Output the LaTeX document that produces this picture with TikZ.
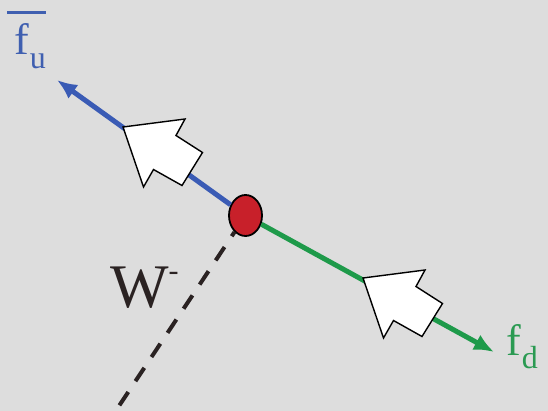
\documentclass[tikz,border=0pt]{standalone}
\usepackage{fontspec}
\setmainfont{Liberation Serif}
\usepackage{tikz}
\usetikzlibrary{shapes.geometric,arrows.meta}
\definecolor{BgGray}{HTML}{DDDDDD}
\definecolor{DotRed}{HTML}{C8202A}
\definecolor{LineBlue}{HTML}{3A5BB5}
\definecolor{LineGreen}{HTML}{1E9A4A}
\definecolor{TxtBlue}{HTML}{3F5FB0}
\definecolor{TxtGreen}{HTML}{2A9A52}
\definecolor{InkDark}{HTML}{2A2222}
\tikzset{
  vtx/.style={ellipse,draw=black,line width=1.8pt,fill=DotRed,
    minimum width=33pt,minimum height=41pt,inner sep=0pt},
  upl/.style={draw=LineBlue,line width=5pt,-{Latex[length=20pt,width=17pt]}},
  dnl/.style={draw=LineGreen,line width=5pt,-{Latex[length=20pt,width=17pt]}},
  wline/.style={draw=InkDark,line width=4pt,dash pattern=on 16pt off 13pt,dash phase=11pt},
  hollow/.style={draw=black,fill=white,line width=1.4pt,line join=miter},
  lbl/.style={inner sep=0pt,anchor=base west,font=\fontsize{44}{44}\selectfont},
}
\newcommand{\lowsub}[1]{\kern1pt\raisebox{-0.3em}{\fontsize{32}{32}\selectfont #1}}
\newcommand{\highsup}[1]{\raisebox{0.42em}{\fontsize{30}{30}\selectfont #1}}

\begin{document}
\begin{tikzpicture}[x=1pt,y=-1pt]
\fill[BgGray] (0,0) rectangle (548,411);
\useasboundingbox (0,0) rectangle (548,411);
\clip (0,0) rectangle (548,411);

\node[vtx] (v) at (245.5,215.5) {};
\coordinate (uend) at (57,80);
\coordinate (dend) at (494,352);
\coordinate (wend) at (107,424);

\draw[upl] (v) -- (uend);
\draw[dnl] (v) -- (dend);
\draw[wline] (v) -- (wend);

% hollow arrows pointing to the vertex
\coordinate (ua) at (123,127);
\coordinate (da) at (363,278);
\foreach \t in {ua,da}
  \draw[hollow,shift={(\t)}] (0,0) -- (62,-8) -- (53,8.5) -- (79.5,25.5)
    -- (59,58.5) -- (30.5,42.5) -- (20.5,60) -- cycle;

\node[lbl,text=TxtBlue] (fu) at (7,55)
  {\vbox{\hrule height 2.6pt\kern10pt\hbox{\kern7pt f\lowsub{u}}}};
\node[lbl,text=TxtGreen] (fd) at (506,355) {f\lowsub{d}};
\node[lbl,text=InkDark,font=\fontsize{62}{62}\selectfont] (w) at (110,307)
  {W\highsup{-}};
\end{tikzpicture}
\end{document}
